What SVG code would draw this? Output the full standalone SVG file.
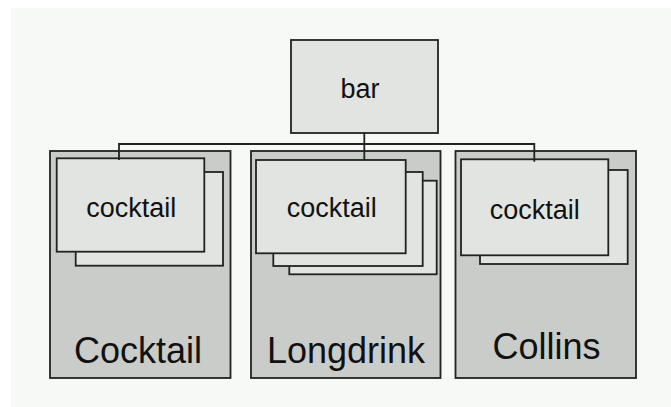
<svg xmlns="http://www.w3.org/2000/svg" width="671" height="407" viewBox="0 0 671 407">
<style>
.outer{fill:#c9ccc9;stroke:#222;stroke-width:1.8}
.box{fill:#e1e4e1;stroke:#222;stroke-width:1.8}
.lbl{font-family:"Liberation Sans",Arial,sans-serif;font-size:27px;fill:#111;text-anchor:middle}
.big{font-family:"Liberation Sans",Arial,sans-serif;font-size:36px;fill:#111;text-anchor:middle}
.con{fill:none;stroke:#222;stroke-width:1.8}
</style>
<rect x="0" y="0" width="671" height="407" fill="#ffffff"/>
<rect x="11" y="8" width="660" height="399" fill="#f6f9f6"/>
<g id="bar">
<rect class="box" x="291" y="40" width="147" height="93"/>
<text class="lbl" x="360" y="97.5">bar</text>
</g>
<g id="cocktail-group">
<rect class="outer" x="50" y="151" width="180.5" height="227"/>
<rect class="box" x="75.7" y="172" width="147.3" height="93.7"/>
<rect class="box" x="56.7" y="158.3" width="147.6" height="93.4"/>
<text class="lbl" x="131.3" y="217.3">cocktail</text>
<text class="big" x="138" y="363">Cocktail</text>
</g>
<g id="longdrink-group">
<rect class="outer" x="251" y="151" width="189.5" height="227"/>
<rect class="box" x="289.3" y="180.7" width="147.4" height="93.6"/>
<rect class="box" x="273.3" y="172" width="149.4" height="94"/>
<rect class="box" x="256" y="160" width="149.7" height="93.3"/>
<text class="lbl" x="331.7" y="217.3">cocktail</text>
<text class="big" x="346" y="363">Longdrink</text>
</g>
<g id="collins-group">
<rect class="outer" x="455.5" y="151" width="180.5" height="227"/>
<rect class="box" x="480" y="170" width="147.7" height="94"/>
<rect class="box" x="461" y="159.3" width="147.3" height="96"/>
<text class="lbl" x="534.8" y="219.3">cocktail</text>
<text class="big" x="546.5" y="359">Collins</text>
</g>
<g id="connectors">
<path class="con" d="M364.3 133 V144 M119 160 V144 H534.3 V161.7 M364.3 144 V160"/>
</g>
</svg>
